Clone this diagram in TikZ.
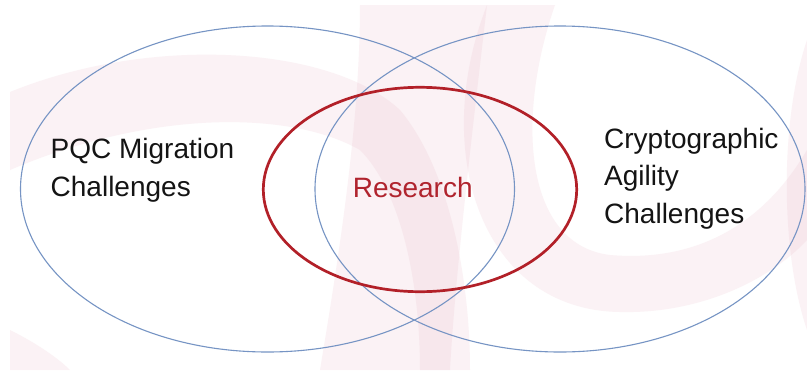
\documentclass[tikz,border=0pt]{standalone}
\usepackage{fontspec}
\setmainfont{Liberation Sans}
\usetikzlibrary{shapes.geometric}
\definecolor{swoosh}{RGB}{232,180,196}
\definecolor{venblue}{RGB}{118,148,196}
\definecolor{venred}{RGB}{178,32,40}
\definecolor{txtred}{RGB}{176,36,46}
\definecolor{txtblack}{RGB}{20,20,20}
\tikzset{
  bg/.style={fill=swoosh, fill opacity=0.17, draw=none},
  setellipse/.style={draw=venblue, line width=1.1pt},
  resellipse/.style={draw=venred, line width=2.7pt},
  lbl/.style={font=\fontsize{28}{38}\selectfont, text=txtblack, inner sep=0pt, align=left, anchor=base west},
}
\begin{document}
\begin{tikzpicture}[x=1pt,y=-1pt]
\useasboundingbox (0,0) rectangle (807,370);
\fill[white] (0,0) rectangle (807,370);
% decorative background swooshes
\path[bg] (10,92) .. controls (150,35) and (330,45) .. (400,110)
  .. controls (450,170) and (470,280) .. (470,370) -- (420,370)
  .. controls (420,280) and (400,190) .. (360,150)
  .. controls (290,110) and (150,110) .. (10,170) -- cycle;
\path[bg] (360,5) -- (487,5) .. controls (470,150) and (455,280) .. (450,370)
  -- (320,370) .. controls (340,250) and (360,120) .. (360,5) -- cycle;
\path[bg] (487,5) .. controls (430,150) and (480,310) .. (620,312)
  .. controls (700,314) and (770,280) .. (807,240) -- (807,150)
  .. controls (760,230) and (690,262) .. (610,255)
  .. controls (525,245) and (515,120) .. (555,5) -- cycle;
\path[bg] (807,40) .. controls (780,120) and (780,250) .. (807,330) -- cycle;
\path[bg] (10,330) .. controls (40,345) and (60,360) .. (70,370) -- (10,370) -- cycle;
% Venn ellipses
\node[setellipse, ellipse, minimum width=494pt, minimum height=326pt, inner sep=0pt] (pqc) at (267.5,189) {};
\node[setellipse, ellipse, minimum width=490pt, minimum height=326pt, inner sep=0pt] (agil) at (560,189) {};
\node[resellipse, ellipse, minimum width=313.4pt, minimum height=204.4pt, inner sep=0pt] (res) at (420,189.5) {};
% labels (base anchor = baseline of last line)
\node[lbl] (pqctext) at (50.5,196.7) {PQC Migration\\Challenges};
\node[lbl, font=\fontsize{28}{37.5}\selectfont] (agiltext) at (604,223.3) {Cryptographic\\Agility\\Challenges};
\node[font=\fontsize{28}{34}\selectfont, text=txtred, inner sep=0pt, anchor=base] (restext) at (412.7,197.3) {Research};
\end{tikzpicture}
\end{document}
